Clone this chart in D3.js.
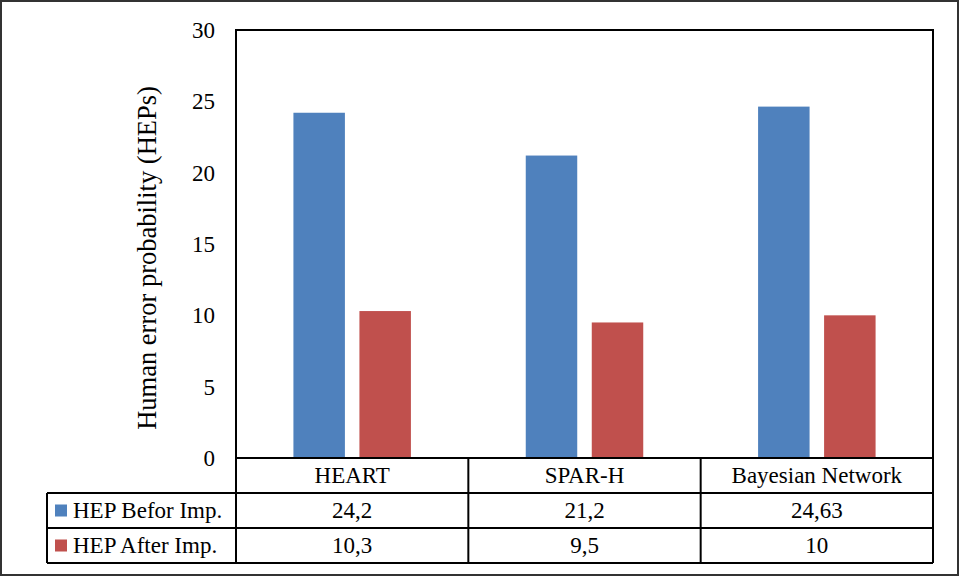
<!DOCTYPE html>
<html>
<head>
<meta charset="utf-8">
<script src="https://cdn.jsdelivr.net/npm/d3@7"></script>
<style>
  html, body { margin: 0; padding: 0; background: #fff; }
  svg { display: block; }
  text { font-family: "Liberation Serif", "Times New Roman", serif; fill: #000; }
</style>
</head>
<body>
<svg id="chart" width="961" height="577"></svg>
<script>
const categories = ["HEART", "SPAR-H", "Bayesian Network"];
const seriesNames = ["HEP Befor Imp.", "HEP After Imp."];
const seriesLabels = ["HEP Befor Imp.", "HEP After Imp."];
const beforeValues = [24.2, 21.2, 24.63];
const afterValues = [10.3, 9.5, 10];
const beforeLabels = ["24,2", "21,2", "24,63"];
const afterLabels = ["10,3", "9,5", "10"];
const yTicks = [0, 5, 10, 15, 20, 25, 30];
const colors = ["#4F81BD", "#C0504D"];

const seriesValues = [beforeValues, afterValues];
const seriesTexts = [beforeLabels, afterLabels];

const FONT = '"Liberation Serif", "Times New Roman", serif';
const FS = "23px";

const svg = d3.select("#chart");
const plot = { left: 236, right: 933, top: 30, bottom: 458 };
const rowH = 35;
const legendLeft = 47;

// outer border
svg.append("rect").attr("x", 1).attr("y", 1).attr("width", 957).attr("height", 574)
  .attr("fill", "#fff").attr("stroke", "#333").attr("stroke-width", 2);

const y = d3.scaleLinear().domain([0, 30]).range([plot.bottom, plot.top]);
const x0 = d3.scaleBand().domain(categories).range([plot.left, plot.right]).padding(0);
const groupFrac = 0.5057;
const x1 = d3.scaleBand().domain(seriesNames)
  .range([0, x0.bandwidth() * groupFrac]).paddingInner(0.22).paddingOuter(0);
const groupOffset = (x0.bandwidth() - x0.bandwidth() * groupFrac) / 2;

// bars
const g = svg.append("g");
categories.forEach((c, ci) => {
  seriesNames.forEach((s, si) => {
    const v = seriesValues[si][ci];
    g.append("rect")
      .attr("x", x0(c) + groupOffset + x1(s))
      .attr("y", y(v))
      .attr("width", x1.bandwidth())
      .attr("height", y(0) - y(v))
      .attr("fill", colors[si]);
  });
});

// plot border
svg.append("rect").attr("x", plot.left).attr("y", plot.top)
  .attr("width", plot.right - plot.left).attr("height", plot.bottom - plot.top)
  .attr("fill", "none").attr("stroke", "#000").attr("stroke-width", 2);

// y axis labels
const yAxis = d3.axisLeft(y).tickValues(yTicks).tickSize(0).tickPadding(21);
const ya = svg.append("g").attr("transform", `translate(${plot.left},0)`).call(yAxis);
ya.select(".domain").remove();
ya.selectAll("text").attr("font-family", FONT).style("font-family", FONT)
  .style("font-size", FS).attr("fill", "#000");

// y title
svg.append("text")
  .attr("transform", `translate(156,258) rotate(-90)`)
  .attr("text-anchor", "middle")
  .style("font-family", FONT)
  .style("font-size", "26.5px")
  .text("Human error probability (HEPs)");

// data table
const tableBottom = plot.bottom + rowH * 3;
const lineStyle = sel => sel.attr("stroke", "#000").attr("stroke-width", 2);
svg.append("line").attr("x1", plot.left).attr("x2", plot.right)
  .attr("y1", plot.bottom).attr("y2", plot.bottom).call(lineStyle);
[1, 2, 3].forEach(r => {
  svg.append("line").attr("x1", legendLeft).attr("x2", plot.right)
    .attr("y1", plot.bottom + rowH * r).attr("y2", plot.bottom + rowH * r).call(lineStyle);
});
svg.append("line").attr("x1", legendLeft).attr("x2", legendLeft)
  .attr("y1", plot.bottom + rowH).attr("y2", tableBottom).call(lineStyle);
categories.forEach(c => {
  svg.append("line").attr("x1", x0(c)).attr("x2", x0(c))
    .attr("y1", plot.bottom).attr("y2", tableBottom).call(lineStyle);
});
svg.append("line").attr("x1", plot.right).attr("x2", plot.right)
  .attr("y1", plot.bottom).attr("y2", tableBottom).call(lineStyle);

// header row
categories.forEach(c => {
  svg.append("text").attr("x", x0(c) + x0.bandwidth() / 2).attr("y", plot.bottom + rowH / 2)
    .attr("text-anchor", "middle").attr("dominant-baseline", "central")
    .style("font-family", FONT).style("font-size", FS).text(c);
});
// series rows
seriesNames.forEach((s, si) => {
  const rowTop = plot.bottom + rowH * (si + 1);
  svg.append("rect").attr("x", 55).attr("y", rowTop + rowH / 2 - 6)
    .attr("width", 12).attr("height", 12).attr("fill", colors[si]);
  svg.append("text").attr("x", 73).attr("y", rowTop + rowH / 2)
    .attr("dominant-baseline", "central").style("font-family", FONT)
    .style("font-size", FS).text(seriesLabels[si]);
  categories.forEach((c, ci) => {
    svg.append("text").attr("x", x0(c) + x0.bandwidth() / 2).attr("y", rowTop + rowH / 2)
      .attr("text-anchor", "middle").attr("dominant-baseline", "central")
      .style("font-family", FONT).style("font-size", FS).text(seriesTexts[si][ci]);
  });
});
</script>
</body>
</html>
